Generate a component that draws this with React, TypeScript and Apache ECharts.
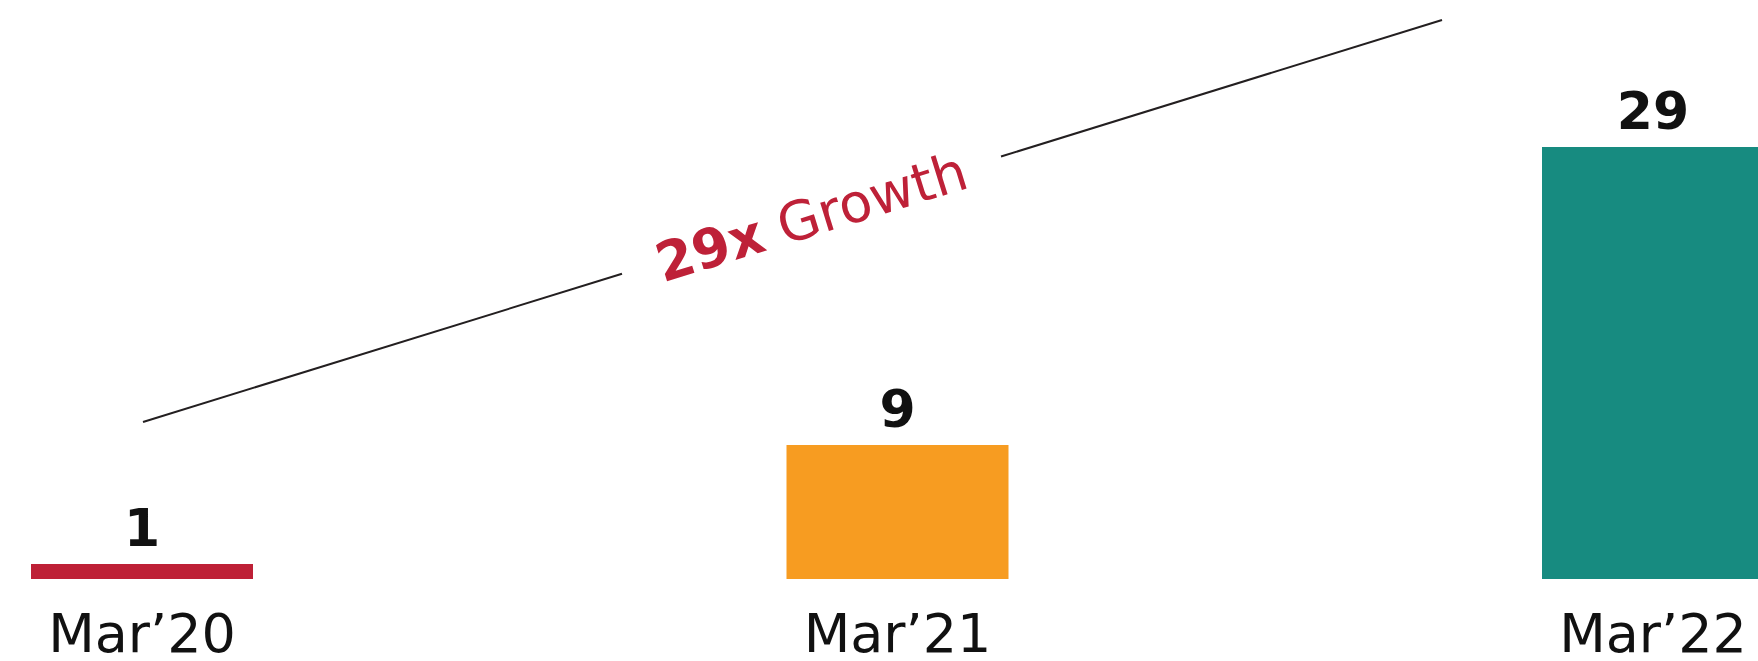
import React, { useEffect, useRef } from "react";
import * as echarts from "echarts";

const categories = ["Mar’20", "Mar’21", "Mar’22"];
const values = [1, 9, 29];
const barColors = ["#BE2036", "#F79C21", "#178B80"];
const growthLabel = "29x";
const growthWord = "Growth";

const FONT = "DejaVu Sans";

export default function App() {
  const ref = useRef<HTMLDivElement>(null);

  useEffect(() => {
    if (!ref.current) return;
    const chart = echarts.init(ref.current, null, { renderer: "svg" });

    // annotation line geometry (layout only)
    const p0 = [143, 422];
    const p1 = [1442, 20];
    const gapStartX = 622;
    const gapEndX = 1001;
    const yAt = (x: number) => p0[1] + ((p1[1] - p0[1]) * (x - p0[0])) / (p1[0] - p0[0]);
    const angle = Math.atan2(p0[1] - p1[1], p1[0] - p0[0]);
    const midX = (gapStartX + gapEndX) / 2;

    chart.setOption({
      animation: false,
      backgroundColor: "#ffffff",
      grid: { left: 142, right: 105, top: 13, bottom: 82 },
      xAxis: {
        type: "category",
        data: categories,
        boundaryGap: false,
        axisLine: { show: false },
        axisTick: { show: false },
        splitLine: { show: false },
        axisLabel: {
          margin: 32,
          fontSize: 54,
          lineHeight: 44,
          fontFamily: FONT,
          color: "#111111",
          interval: 0,
        },
      },
      yAxis: {
        type: "value",
        min: 0,
        max: 38,
        show: false,
        splitLine: { show: false },
      },
      series: [
        {
          type: "bar",
          clip: false,
          barWidth: 222,
          data: values.map((v, i) => ({ value: v, itemStyle: { color: barColors[i] } })),
          label: {
            show: true,
            position: "top",
            distance: 10,
            fontSize: 52,
            lineHeight: 52,
            fontWeight: "bold",
            fontFamily: FONT,
            color: "#111111",
          },
        },
      ],
      graphic: [
        {
          type: "line",
          shape: { x1: p0[0], y1: p0[1], x2: gapStartX, y2: yAt(gapStartX) },
          style: { stroke: "#231F20", lineWidth: 2 },
        },
        {
          type: "line",
          shape: { x1: gapEndX, y1: yAt(gapEndX), x2: p1[0], y2: p1[1] },
          style: { stroke: "#231F20", lineWidth: 2 },
        },
        {
          type: "text",
          x: midX,
          y: yAt(midX) + 2,
          rotation: angle,
          style: {
            text: `{a|${growthLabel}} {b|${growthWord}}`,
            align: "center",
            verticalAlign: "middle",
            rich: {
              a: { fontSize: 54, fontWeight: "bold", fontFamily: FONT, fill: "#BE2138" },
              b: { fontSize: 54, fontWeight: "normal", fontFamily: FONT, fill: "#BE2138" },
            },
            fontSize: 54,
            fontFamily: FONT,
            fill: "#BE2138",
          },
        },
      ],
    });

    return () => chart.dispose();
  }, []);

  return (
    <div
      ref={ref}
      style={{ position: "absolute", left: 0, top: 0, width: 1758, height: 661 }}
    />
  );
}
